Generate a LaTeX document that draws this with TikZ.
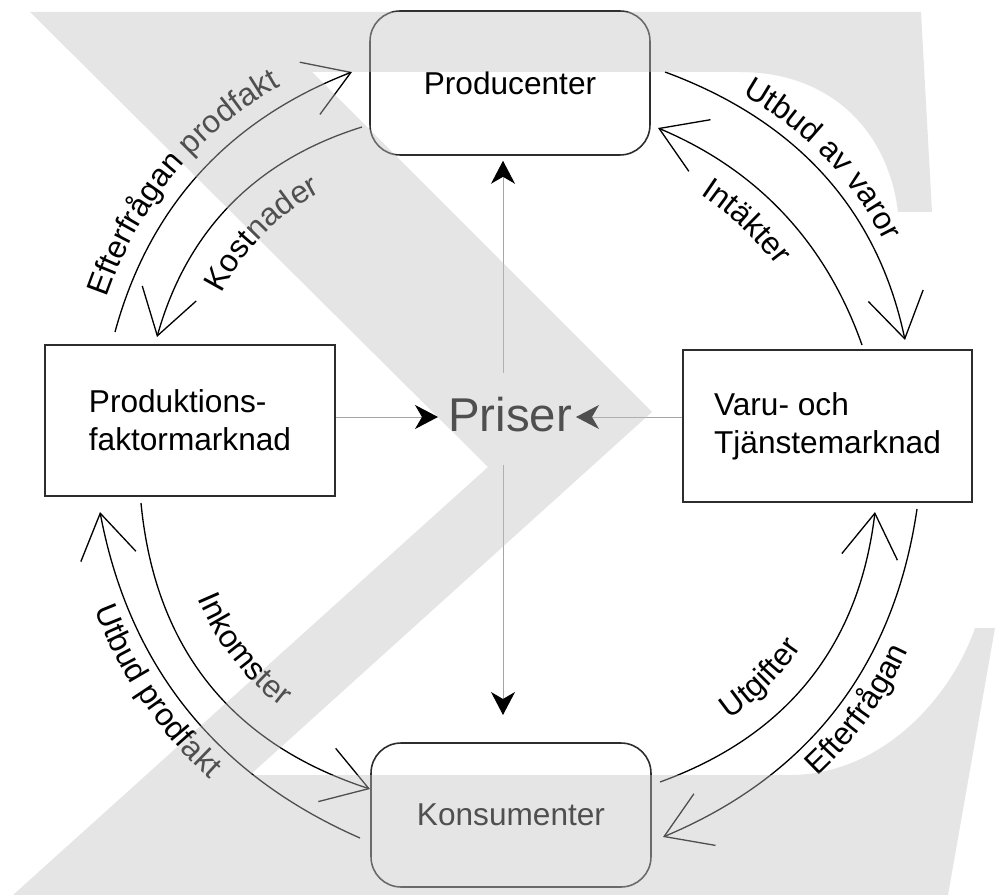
\documentclass[tikz,border=0pt]{standalone}
\usepackage{fontspec}
\setmainfont{Liberation Sans}
\usetikzlibrary{arrows.meta,decorations.text}
\newcommand{\labf}{\fontsize{18}{21.5}\selectfont}
\definecolor{ovlgray}{RGB}{194,194,194}
\definecolor{prline}{RGB}{165,165,165}
\definecolor{boxline}{RGB}{45,45,45}
\begin{document}
\begin{tikzpicture}[x=0.02cm,y=-0.02cm,
  boxr/.style={draw=boxline, line width=0.9pt, rounded corners=0.6cm,
    minimum width=5.6cm, minimum height=2.88cm, font=\labf},
  boxs/.style={draw=boxline, line width=0.9pt, align=left, font=\labf},
  flow/.style={line width=0.75pt, -{Straight Barb[length=0.88cm,width=1.12cm,line width=0.75pt]}},
  prl/.style={draw=prline, line width=0.55pt, -{Stealth[length=0.46cm,width=0.48cm,inset=0.14cm,color=black]}},
  lab/.style 2 args={decorate, decoration={text along path, text={|\labf|#1}, text align={left indent=#2}}},
  ovl/.style={fill=ovlgray, fill opacity=0.41}
]
\fill[white] (0,0) rectangle (995,895);
\useasboundingbox (0,0) rectangle (995,895);

% boxes
\node[boxr] (prod) at (510,83) {Producenter};
\node[boxr] (kons) at (511,815) {Konsumenter};
\node[boxs, minimum width=5.8cm, minimum height=3.02cm] (pfm) at (190,420.5) {Produktions-\\faktormarknad};
\node[boxs, minimum width=5.78cm, minimum height=3.04cm] (vtm) at (827.5,426) {Varu- och\\Tj\"anstemarknad};
\node[font=\fontsize{27}{31}\selectfont, inner sep=0pt] (priser) at (510,415) {Priser};

% price arrows
\coordinate (pl) at (438,417);
\coordinate (pr) at (576,417);
\coordinate (pu) at (503,373);
\coordinate (pd) at (503,465);
\coordinate (pdt) at (503,715);
\draw[prl] (pl -| pfm.east) -- (pl);
\draw[prl] (pr -| vtm.west) -- (pr);
\draw[prl, shorten >=0.1cm] (pu) -- (pu |- prod.south);
\draw[prl] (pd) -- (pdt);

% flow arrows
\coordinate (a1s) at (115,332); \coordinate (a1e) at (352,72);
\coordinate (a2s) at (362,127); \coordinate (a2e) at (157,337);
\coordinate (a3s) at (665,72);  \coordinate (a3e) at (905,340);
\coordinate (a4s) at (862,345); \coordinate (a4e) at (658,128);
\coordinate (a5s) at (360,838); \coordinate (a5e) at (100,512);
\coordinate (a6s) at (141,503); \coordinate (a6e) at (370,789);
\coordinate (a7s) at (660,782); \coordinate (a7e) at (875,512);
\coordinate (a8s) at (917,509); \coordinate (a8e) at (663,837);

\draw[flow] (a1s) .. controls (149,207) and (228,120) .. (a1e);
\draw[flow] (a2s) .. controls (256,160) and (187,230) .. (a2e);
\draw[flow] (a3s) .. controls (798,121) and (878,211) .. (a3e);
\draw[flow] (a4s) .. controls (826,243) and (758,170) .. (a4e);
\draw[flow] (a5s) .. controls (216,775) and (129,666) .. (a5e);
\draw[flow] (a6s) .. controls (155,649) and (232,744) .. (a6e);
\draw[flow] (a7s) .. controls (787,736) and (859,646) .. (a7e);
\draw[flow] (a8s) .. controls (894,666) and (809,776) .. (a8e);

% labels along baselines parallel to the arcs
\path[lab={Efterfrågan prodfakt}{18pt}]
  (97.6,327.3) .. controls (133.1,196.8) and (216.0,105.3) .. (345.5,55.2);
\path[lab={Kostnader}{34pt}]
  (200.4,349.2) .. controls (226.5,256.0) and (283.1,198.7) .. (375.4,170);
\path[lab={Utbud av varor}{46pt}]
  (669.2,60.7) .. controls (807.1,111.5) and (888.7,203.7) .. (916.7,337.5);
\path[lab={Intäkter}{37pt}]
  (642.9,164) .. controls (731.9,201.4) and (793.2,267.2) .. (825.2,358);
\path[lab={Utbud prodfakt}{54pt}]
  (69.5,517.7) .. controls (100.6,682.9) and (193.1,798.8) .. (347.6,866.4);
\path[lab={Inkomster}{58pt}]
  (173.8,499.9) .. controls (186.3,630.3) and (257.0,717.4) .. (380.2,757.6);
\path[lab={Utgifter}{50pt}]
  (651.5,758.5) .. controls (768.2,716.2) and (835.5,632.1) .. (850.2,509);
\path[lab={Efterfrågan}{96pt}]
  (675,865.6) .. controls (832.5,799.8) and (922.9,682.9) .. (947.7,513.5);

% watermark overlay
\fill[ovl] (30,12) -- (921,12) -- (932,212) -- (898,212)
  .. controls (888,130) and (830,72) .. (740,72) -- (312,72) -- (652,412)
  -- (250,775) -- (790,775) .. controls (880,775) and (950,700) .. (975,628)
  -- (995,628) -- (948,895) -- (13,895) -- (488,467) -- cycle;
\end{tikzpicture}
\end{document}
